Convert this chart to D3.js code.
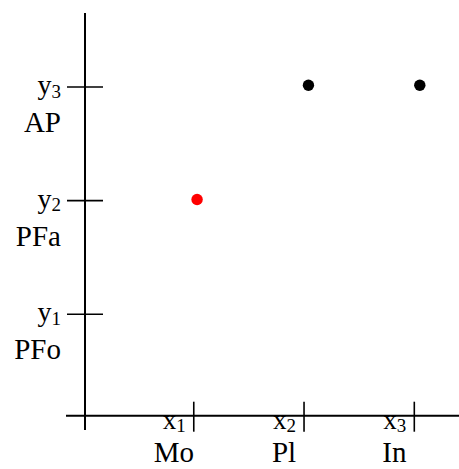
<!DOCTYPE html>
<html>
<head>
<meta charset="utf-8">
<script src="https://cdn.jsdelivr.net/npm/d3@7"></script>
<style>
  html, body { margin: 0; padding: 0; background: #fff; }
  svg { display: block; }
</style>
</head>
<body>
<svg id="chart" width="459" height="469"></svg>
<script>
// ---- data ----
const xTickValues = [1, 2, 3];
const xTickSymbols = ["x", "x", "x"];
const xTickSubs = ["1", "2", "3"];
const xCategories = ["Mo", "Pl", "In"];

const yTickValues = [1, 2, 3];
const yTickSymbols = ["y", "y", "y"];
const yTickSubs = ["1", "2", "3"];
const yCategories = ["PFo", "PFa", "AP"];

const pointX = [1.03, 2.04, 3.05];
const pointY = [2.01, 3.015, 3.015];
const pointColor = ["#ff0000", "#000000", "#000000"];

// ---- layout ----
const FONT = "'Liberation Serif', 'Times New Roman', Times, serif";
const svg = d3.select("#chart")
  .attr("font-family", FONT);
const x = d3.scaleLinear().domain([0, 3]).range([83.5, 414.3]);
const y = d3.scaleLinear().domain([0, 3]).range([427.8, 87]);
const axisX = 85;      // vertical axis position
const axisY = 415.7;   // horizontal axis position

// axes
svg.append("line")
  .attr("x1", axisX).attr("x2", axisX)
  .attr("y1", 13).attr("y2", 430)
  .attr("stroke", "#000").attr("stroke-width", 2);
svg.append("line")
  .attr("x1", 66).attr("x2", 459)
  .attr("y1", axisY).attr("y2", axisY)
  .attr("stroke", "#000").attr("stroke-width", 2);

// y ticks
const yt = svg.append("g").selectAll("g").data(yTickValues).join("g")
  .attr("transform", d => `translate(0,${y(d)})`);
yt.append("line")
  .attr("x1", axisX - 18).attr("x2", axisX + 18)
  .attr("stroke", "#000").attr("stroke-width", 1.6);
const ylab = yt.append("text")
  .attr("x", 61).attr("y", 7)
  .attr("text-anchor", "end")
  .attr("font-family", FONT)
  .style("font-size", "28px");
ylab.append("tspan").text((d, i) => yTickSymbols[i]);
ylab.append("tspan").attr("dy", 3.5).style("font-size", "19px").text((d, i) => yTickSubs[i]);
yt.append("text")
  .attr("x", 61).attr("y", 45)
  .attr("text-anchor", "end")
  .attr("font-family", FONT)
  .style("font-size", "29px")
  .text((d, i) => yCategories[i]);

// x ticks
const xt = svg.append("g").selectAll("g").data(xTickValues).join("g")
  .attr("transform", d => `translate(${x(d)},0)`);
xt.append("line")
  .attr("y1", axisY - 14).attr("y2", axisY + 16)
  .attr("stroke", "#000").attr("stroke-width", 1.6);
const xlab = xt.append("text")
  .attr("x", -8).attr("y", axisY + 13.6)
  .attr("text-anchor", "end")
  .attr("font-family", FONT)
  .style("font-size", "27px");
xlab.append("tspan").text((d, i) => xTickSymbols[i]);
xlab.append("tspan").attr("dy", 2.5).style("font-size", "19px").text((d, i) => xTickSubs[i]);
xt.append("text")
  .attr("x", -20).attr("y", 462)
  .attr("text-anchor", "middle")
  .attr("font-family", FONT)
  .style("font-size", "29px")
  .text((d, i) => xCategories[i]);

// points
svg.append("g").selectAll("circle").data(pointX).join("circle")
  .attr("cx", d => x(d))
  .attr("cy", (d, i) => y(pointY[i]))
  .attr("r", 5.7)
  .attr("fill", (d, i) => pointColor[i]);
</script>
</body>
</html>
